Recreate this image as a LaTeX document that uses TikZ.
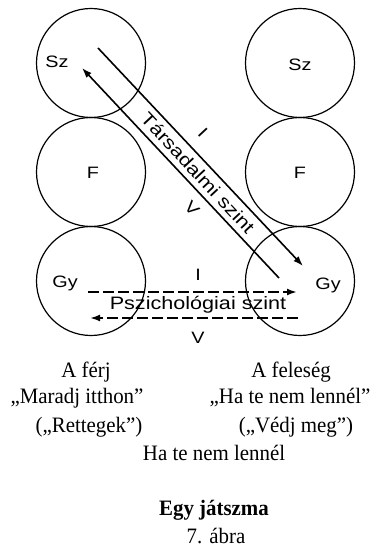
\documentclass[tikz,border=0pt]{standalone}
\usepackage{fontspec}
\setmainfont{Liberation Serif}[FakeStretch=0.95]
\newfontfamily\sansfont{Liberation Sans}[FakeStretch=1.2]
\usepackage{tikz}
\usetikzlibrary{arrows.meta}

\tikzset{
  ego/.style={circle,draw,line width=1.2pt,minimum size=109pt,inner sep=0pt},
  egolbl/.style={font=\sansfont\fontsize{16.5}{18}\selectfont,inner sep=0pt},
  levellbl/.style={font=\sansfont\fontsize{18}{20}\selectfont,inner sep=0pt},
  captxt/.style={font=\fontsize{22}{24}\selectfont,inner sep=0pt,anchor=base},
  social/.style={line width=1.6pt,-{Latex[length=10pt,width=7pt]}},
  psych/.style={line width=2.2pt,dash pattern=on 11pt off 4pt,-{Latex[length=10pt,width=7pt]}}
}

\begin{document}
\begin{tikzpicture}[x=1pt,y=-1pt]
  \useasboundingbox (0,0) rectangle (375,548);
  % the two persons
  \node[ego] (szL) at (91,63) {};
  \node[ego] (fL)  at (91,172) {};
  \node[ego] (gyL) at (91,281) {};
  \node[ego] (szR) at (300,63) {};
  \node[ego] (fR)  at (300,172) {};
  \node[ego] (gyR) at (300,281) {};
  \node[egolbl] (szLt) at (57,62) {Sz};
  \node[egolbl] (fLt)  at (93,173) {F};
  \node[egolbl] (gyLt) at (65,283) {Gy};
  \node[egolbl] (szRt) at (300,65) {Sz};
  \node[egolbl] (fRt)  at (300,173) {F};
  \node[egolbl] (gyRt) at (328,285) {Gy};
  % social level
  \coordinate (sA) at (98,48);
  \coordinate (sB) at (303,266);
  \coordinate (sC) at (279,278);
  \coordinate (sD) at (82,68);
  \draw[social] (sA) -- (sB);
  \draw[social] (sC) -- (sD);
  \node[levellbl,rotate=-47] (soc) at (198,173) {Társadalmi szint};
  \node[egolbl,rotate=-47] (socI) at (203,133) {I};
  \node[egolbl,rotate=-47] (socV) at (192,208) {V};
  % psychological level
  \coordinate (pA) at (88,292);
  \coordinate (pB) at (297,292);
  \coordinate (pC) at (298,318);
  \coordinate (pD) at (90,318);
  \draw[psych] (pA) -- (pB);
  \draw[psych] (pC) -- (pD);
  \node[levellbl] (psy) at (198,305) {Pszichológiai szint};
  \node[egolbl] (psyI) at (198,275) {I};
  \node[egolbl] (psyV) at (198,338) {V};
  % captions
  \node[captxt] (man1) at (86,377) {A férj};
  \node[captxt] (man2) at (77,403) {„Maradj itthon”};
  \node[captxt] (man3) at (89,432) {(„Rettegek”)};
  \node[captxt] (wif1) at (291,377) {A feleség};
  \node[captxt] (wif2) at (290,403) {„Ha te nem lennél”};
  \node[captxt] (wif3) at (296,432) {(„Védj meg”)};
  \node[captxt] (game) at (214,460) {Ha te nem lennél};
  \node[captxt,font=\bfseries\fontsize{22}{24}\selectfont] (ttl) at (214,515) {Egy játszma};
  \node[captxt] (fig) at (216,543) {7. ábra};
\end{tikzpicture}
\end{document}
